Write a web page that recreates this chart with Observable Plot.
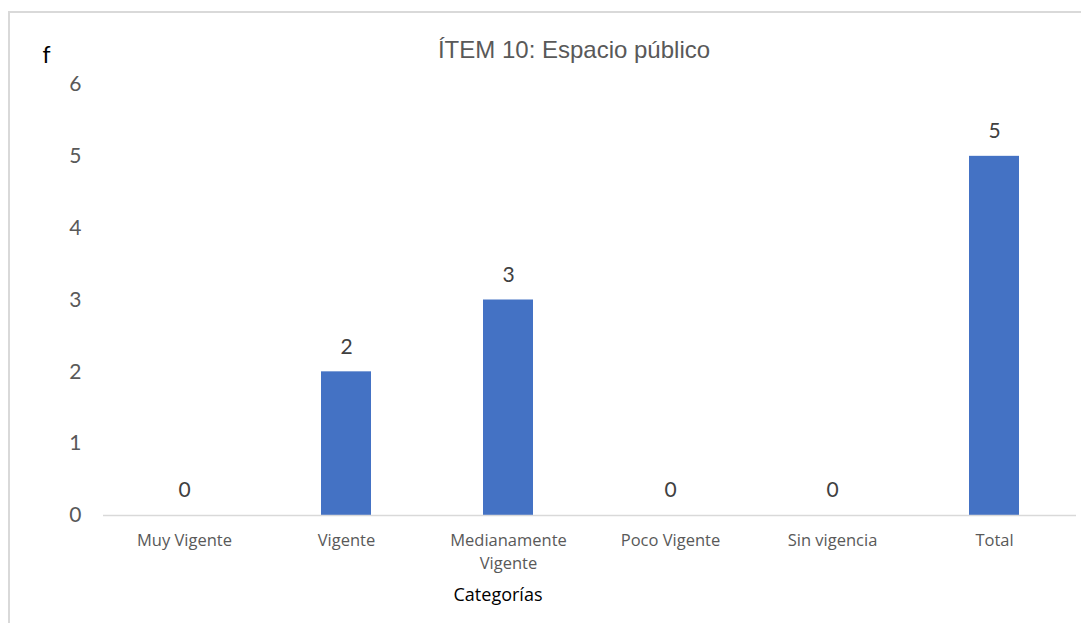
<!DOCTYPE html>
<html>
<head>
<meta charset="utf-8">
<script src="https://cdn.jsdelivr.net/npm/d3@7"></script>
<script src="https://cdn.jsdelivr.net/npm/@observablehq/plot@0.6"></script>
<style>
  html, body { margin: 0; padding: 0; background: #fff; }
  #wrap { position: relative; width: 1081px; height: 623px; overflow: hidden; }
  #border { position: absolute; left: 8px; top: 11px; width: 1090px; height: 700px;
            border-top: 2px solid #d9d9d9; border-left: 2px solid #d9d9d9; }
  #chart { position: absolute; left: 0; top: 0; }
</style>
</head>
<body>
<div id="wrap">
  <div id="border"></div>
  <div id="chart"></div>
</div>
<script>
const categories = ["Muy Vigente", "Vigente", "Medianamente\nVigente", "Poco Vigente", "Sin vigencia", "Total"];
const values = [0, 2, 3, 0, 0, 5];
const yTicks = [0, 1, 2, 3, 4, 5, 6];
const title = "ÍTEM 10: Espacio público";
const yLabel = "f";
const xLabel = "Categorías";

const data = categories.map((c, i) => ({category: c, value: values[i]}));

const chart = Plot.plot({
  width: 1081,
  height: 623,
  marginTop: 84,
  marginBottom: 108,
  marginLeft: 103,
  marginRight: 5,
  style: {background: "transparent", overflow: "visible"},
  x: {domain: categories, paddingInner: 0.69, paddingOuter: 0.345, label: null},
  y: {domain: [0, 6], ticks: yTicks, label: null},
  marks: [
    Plot.barY(data, {x: "category", y: "value", fill: "#4472c4"}),
    Plot.ruleY([0], {stroke: "#d9d9d9", strokeWidth: 1.5}),
    Plot.text(data, {x: "category", y: "value", text: d => String(d.value), dy: -25,
      fontSize: 21, fill: "#404040", fontFamily: "Lato, 'Open Sans', sans-serif"}),
    Plot.axisY({ticks: yTicks, tickFormat: d => String(d), tickSize: 0, tickPadding: 22, fontSize: 21,
      fontFamily: "Lato, 'Open Sans', sans-serif", color: "#595959", label: null}),
    Plot.axisX({tickSize: 0, tickPadding: 14, fontSize: 16.5, lineHeight: 1.4,
      fontFamily: "'Open Sans', sans-serif", color: "#595959", label: null, textAnchor: "middle"}),
    Plot.text([title], {frameAnchor: "top", dy: -44, dx: -16, fontSize: 24, fill: "#595959",
      fontFamily: "'Liberation Sans', Arial, sans-serif"}),
    Plot.text([yLabel], {frameAnchor: "top-left", dx: -57, dy: -38, fontSize: 23, fill: "#000",
      fontFamily: "Lato, sans-serif", textAnchor: "middle"}),
    Plot.text([xLabel], {frameAnchor: "bottom", dy: 85, dx: -92, fontSize: 18, fill: "#000",
      fontFamily: "'Open Sans', sans-serif"})
  ]
});
document.getElementById("chart").append(chart);
</script>
</body>
</html>
